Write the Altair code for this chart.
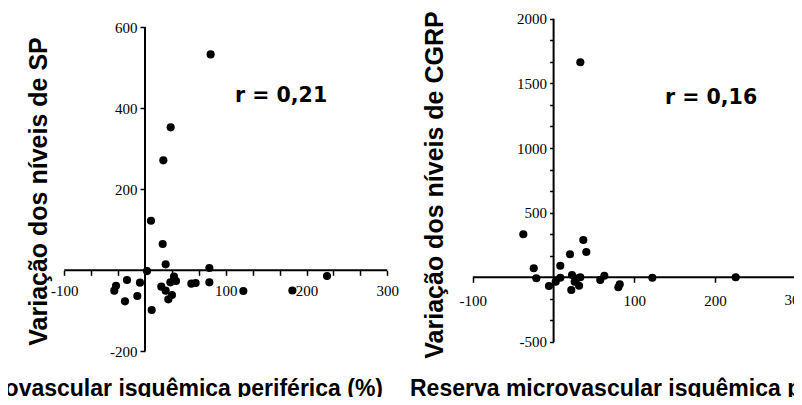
import altair as alt
import pandas as pd

# ---------------- data ----------------
sp_x = [81.3, 31.8, 22.7, 7.4, 21.9, 25.6, 2.5, 79.7, 79.7, 57.4, 62.7, 38.4, 31.4, 35.9,
        20.2, 25.6, 33.4, 28.9, 8.3, -6.2, -9.5, -22.3, -24.8, -35.9, -38.0, 121.8, 182.5, 225.4]
sp_y = [533, 353, 271.5, 122.5, 65, 14.7, -2, 5.7, -29.7, -33, -31.5, -26.4, -29.7, -15.7,
        -40.4, -50.3, -61, -71.7, -98, -30.5, -63.5, -24, -76.6, -38, -50.3, -51, -50, -14]

cgrp_x = [33.1, -37.5, 36.8, 40.5, 20.3, 8.3, -24.6, -21.4, -5.7, 2.6, 8.3, 22.8, 26.1,
          21.9, 31.5, 33.1, 28.6, 57.8, 62.8, 80.2, 81.9, 122.3, 225.5]
cgrp_y = [1663, 332.6, 288.5, 195.7, 177.9, 89.7, 69.6, -7.7, -67.3, -34, -3, 17.8, -34,
          -98, -65, 0, -10, -21, 12.4, -77, -54, -3, 0]

sp_xticks = [-100, -66.67, -33.33, 33.33, 66.67, 100, 133.33, 166.67, 200, 233.33, 266.67, 300]
sp_xlabels = [-100, 100, 200, 300]
sp_yticks = [-200, 200, 400, 600]
sp_ylabels = [-200, 200, 400, 600]
cgrp_xticks = [-100, 100, 200, 300]
cgrp_xlabels = [-100, 100, 200]          # drawn by the axis
cgrp_xlabels_edge = [300]                # last label, cut by the picture edge
cgrp_yticks = [-500, -333.33, -166.67, 166.67, 333.33, 500, 666.67, 833.33, 1000, 1166.67,
               1333.33, 1500, 1666.67, 1833.33, 2000]
cgrp_ylabels = [-500, 500, 1000, 1500, 2000]

sp_xrange = [-100, 300]
sp_yrange = [-200, 600]
cgrp_xrange = [-100, 300]
cgrp_yrange = [-500, 2000]

sp_r = ["r = 0,21"]
cgrp_r = ["r = 0,16"]
sp_ytitle = ["Variação dos níveis de SP"]
cgrp_ytitle = ["Variação dos níveis de CGRP"]
xtitle = ["Reserva microvascular isquêmica periférica (%)"]

# ---------------- layout ----------------
H = 389
W1 = 392
W2 = 394
TITLE_FONT = "Liberation Sans"
LABEL_FONT = "Liberation Serif"


def label_expr(vals):
    arr = ",".join(str(v) for v in vals)
    return f"indexof([{arr}], round(datum.value)) >= 0 ? toString(round(datum.value)) : ''"


def panel(xs, ys, xticks, xlabels, yticks, ylabels, xr, yr, W, x0, kx, y0, ky,
          xlabpad, ylabpad, ytick, r_text, r_pos, ytitle, ytitle_pos,
          xtitle_text, xtitle_align, xtitle_x, edge_labels=None):
    xdom = [-x0 / kx, (W - x0) / kx]
    ydom = [(y0 - H) / ky, y0 / ky]
    xscale = alt.Scale(domain=xdom, nice=False, zero=False)
    yscale = alt.Scale(domain=ydom, nice=False, zero=False)
    xaxis = alt.Axis(values=xticks, offset=-(H - y0), domain=False, grid=False, title=None,
                     tickSize=5, tickWidth=1.5, tickColor="black",
                     labelExpr=label_expr(xlabels),
                     labelFont=LABEL_FONT, labelFontSize=15, labelColor="black",
                     labelPadding=xlabpad, labelOverlap=False, labelFlush=False)
    yaxis = alt.Axis(values=yticks, offset=-x0, domain=False, grid=False, title=None,
                     tickSize=ytick, tickWidth=1.5, tickColor="black",
                     labelExpr=label_expr(ylabels),
                     labelFont=LABEL_FONT, labelFontSize=15, labelColor="black",
                     labelPadding=ylabpad, labelOverlap=False, labelFlush=False)
    X = alt.X("x:Q", scale=xscale, axis=xaxis)
    Y = alt.Y("y:Q", scale=yscale, axis=yaxis)

    pts = alt.Chart(pd.DataFrame({"x": xs, "y": ys})).mark_point(
        filled=True, size=66, color="black", opacity=1, shape="circle"
    ).encode(x=X, y=Y)

    hrule = alt.Chart(pd.DataFrame({"x": [xr[0]], "x2": [xr[1]], "y": [0]})).mark_rule(
        color="black", strokeWidth=2, clip=True
    ).encode(x=X, x2="x2:Q", y=Y)
    vrule = alt.Chart(pd.DataFrame({"x": [0], "y": [yr[0]], "y2": [yr[1]]})).mark_rule(
        color="black", strokeWidth=2, clip=True
    ).encode(x=X, y=Y, y2="y2:Q")

    rtxt = alt.Chart(pd.DataFrame({"t": r_text})).mark_text(
        font="DejaVu Sans", fontWeight="bold", fontSize=20.5, align="left",
        baseline="alphabetic", color="black"
    ).encode(text="t:N", x=alt.value(r_pos[0]), y=alt.value(r_pos[1]))

    ytt = alt.Chart(pd.DataFrame({"t": ytitle})).mark_text(
        font=TITLE_FONT, fontWeight="bold", fontSize=25, angle=270, align="center",
        baseline="alphabetic", color="black", clip=True
    ).encode(text="t:N", x=alt.value(ytitle_pos[0]), y=alt.value(ytitle_pos[1]))

    xtt = alt.Chart(pd.DataFrame({"t": xtitle_text})).mark_text(
        font=TITLE_FONT, fontWeight="bold", fontSize=23, align=xtitle_align,
        baseline="alphabetic", color="black", clip=True
    ).encode(text="t:N", x=alt.value(xtitle_x), y=alt.value(388))

    layers = [hrule, vrule, pts, rtxt, ytt, xtt]
    if edge_labels:
        edf = pd.DataFrame({"x": edge_labels, "y": [0] * len(edge_labels),
                            "t": [str(v) for v in edge_labels]})
        etxt = alt.Chart(edf).mark_text(
            font=LABEL_FONT, fontSize=15, align="center", baseline="top",
            dy=5 + xlabpad, color="black", clip=True
        ).encode(x=X, y=Y, text="t:N")
        layers.append(etxt)

    return alt.layer(*layers).properties(width=W, height=H)


left = panel(sp_x, sp_y, sp_xticks, sp_xlabels, sp_yticks, sp_ylabels, sp_xrange, sp_yrange, W1,
             x0=137.0, kx=0.8075, y0=262.3, ky=0.405,
             xlabpad=8, ylabpad=3, ytick=5, r_text=sp_r, r_pos=(227, 94.3),
             ytitle=sp_ytitle, ytitle_pos=(38.7, 183.5),
             xtitle_text=xtitle, xtitle_align="right", xtitle_x=375)

right = panel(cgrp_x, cgrp_y, cgrp_xticks, cgrp_xlabels, cgrp_yticks, cgrp_ylabels,
              cgrp_xrange, cgrp_yrange, W2,
              x0=153.6, kx=0.8075, y0=269.3, ky=0.1293,
              xlabpad=11, ylabpad=3, ytick=4, r_text=cgrp_r, r_pos=(265, 96),
              ytitle=cgrp_ytitle, ytitle_pos=(42.7, 177),
              xtitle_text=xtitle, xtitle_align="left", xtitle_x=10,
              edge_labels=cgrp_xlabels_edge)

chart = alt.hconcat(left, right, spacing=0, bounds="flush").properties(padding=0).configure_view(
    strokeWidth=0
)

chart.save("out.html", embed_options={"renderer": "svg", "actions": False})
